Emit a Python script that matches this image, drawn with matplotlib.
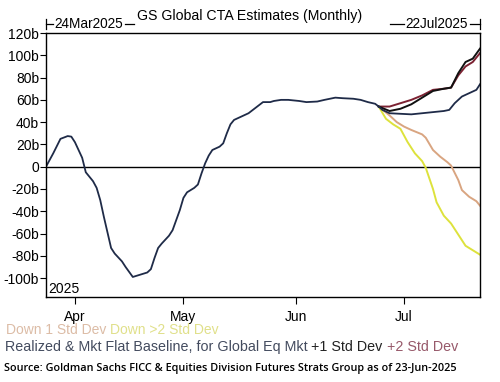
import pandas as pd
import matplotlib.pyplot as plt
import matplotlib.dates as mdates

plt.rcParams['font.family'] = ['Liberation Sans', 'DejaVu Sans']

START = pd.Timestamp('2025-03-24')

# realized CTA positioning (days since 24Mar2025, $bn)
real_days = [0, 2, 4, 6, 7, 8, 10, 11, 13, 14, 15, 16, 18, 19, 21, 22, 24, 26, 28, 29,
             30, 31, 32, 34, 35, 36, 37, 38, 39, 41, 42, 43, 44, 45, 46, 48, 49, 50, 51,
             52, 54, 56, 58, 60, 62, 63, 65, 67, 70, 72, 75, 77, 80, 82, 85, 87, 89, 91, 92]
real_vals = [0, 12, 25, 27.5, 27, 22, 8, -5, -13, -19, -30, -45, -73, -78, -85, -90, -99, -97, -95, -92,
             -82, -73, -69, -62, -57, -48, -39, -28, -23, -19, -16, -6, 3, 10, 15, 18, 21, 30, 38,
             42, 45, 48, 53, 58, 58, 59, 60, 60, 59, 58, 58.5, 60, 62, 61.5, 61, 60, 58, 56.5, 54]

base_days = [92, 93, 95, 98, 101, 104, 107, 110, 111.5, 113, 115, 117, 119, 120]
base_vals = [54, 51, 48, 47.5, 47, 48, 49, 50, 51, 57, 63, 66, 69, 74]

up1_days = [92, 95, 98, 101, 104, 107, 110, 112, 114, 116, 118, 120]
up1_vals = [54, 50, 52, 56, 62, 68, 70, 71, 84, 94, 97, 106]

up2_days = [92, 95, 98, 101, 104, 107, 110, 112, 114, 116, 118, 120]
up2_vals = [54, 54, 57, 60, 64, 69, 70, 71, 82, 90, 94, 102]

dn1_days = [92, 95, 97, 99, 101, 104, 105, 107, 109, 111, 112, 114, 115, 117, 119, 120]
dn1_vals = [54, 46, 40, 36, 33, 29, 26, 15, 9, 4, 1, -12, -21, -27, -31, -35]

dn2_days = [92, 94, 96, 98, 100, 102, 104, 105, 107, 108, 110, 112, 114, 116, 118, 120]
dn2_vals = [54, 43, 38, 34, 22, 12, 5, -1, -20, -32, -44, -51, -61, -71, -75, -79]

yticks = [120, 100, 80, 60, 40, 20, 0, -20, -40, -60, -80, -100]


def to_dates(days):
    return START + pd.to_timedelta(days, unit='D')


fig = plt.figure(figsize=(5, 3.82), dpi=100)
ax = fig.add_axes([0.092, 0.2225, 0.868, 0.691])

C_TAN = '#d9a581'
C_YEL = '#dde23c'
C_NAVY = '#1f2b48'
C_RED = '#7c2232'

ax.axhline(0, color='black', lw=1.0)
ax.plot(to_dates(dn1_days), dn1_vals, color=C_TAN, lw=1.4)
ax.plot(to_dates(dn2_days), dn2_vals, color=C_YEL, lw=1.4)
ax.plot(to_dates(up2_days), up2_vals, color=C_RED, lw=1.4)
ax.plot(to_dates(up1_days), up1_vals, color='#111111', lw=1.4)
ax.plot(to_dates(base_days), base_vals, color=C_NAVY, lw=1.3)
ax.plot(to_dates(real_days), real_vals, color=C_NAVY, lw=1.3)

ax.set_xlim(START, pd.Timestamp('2025-07-22'))
ax.set_ylim(-117, 120)
ax.set_yticks(yticks)
ax.set_yticklabels([f'{v}b' if v != 0 else '0' for v in yticks], fontsize=10)
ax.xaxis.set_major_locator(mdates.MonthLocator())
ax.xaxis.set_major_formatter(mdates.DateFormatter('%b'))
ax.tick_params(axis='x', labelsize=10, length=5, pad=4)
ax.tick_params(axis='y', length=4, pad=1)
for s in ax.spines.values():
    s.set_linewidth(1.0)

ax.text(0.005, 0.003, '2025', transform=ax.transAxes, fontsize=10, va='bottom', ha='left')

# header
fig.text(250 / 500, 1 - 16 / 382, 'GS Global CTA Estimates (Monthly)', fontsize=10.2,
         ha='center', va='center')
yh = 1 - 24 / 382
fig.text(54 / 500, yh, '24Mar2025', fontsize=9.8, ha='left', va='center')
fig.text(468 / 500, yh, '22Jul2025', fontsize=9.8, ha='right', va='center')
fig.add_artist(plt.Line2D([46 / 500, 53 / 500], [yh, yh], color='black', lw=0.9))
fig.add_artist(plt.Line2D([46 / 500, 46 / 500], [yh - 0.012, yh + 0.012], color='black', lw=0.9))
fig.add_artist(plt.Line2D([125 / 500, 134 / 500], [yh, yh], color='black', lw=0.9))
fig.add_artist(plt.Line2D([390 / 500, 404 / 500], [yh, yh], color='black', lw=0.9))
fig.add_artist(plt.Line2D([470 / 500, 480 / 500], [yh, yh], color='black', lw=0.9))
fig.add_artist(plt.Line2D([480 / 500, 480 / 500], [yh - 0.012, yh + 0.012], color='black', lw=0.9))

# legend text
y1 = 1 - 330 / 382
fig.text(6 / 500, y1, 'Down 1 Std Dev', color='#dcbca6', fontsize=10, va='center')
fig.text(110 / 500, y1, 'Down >2 Std Dev', color='#e0e08a', fontsize=10, va='center')

y2 = 1 - 347 / 382
t = fig.text(5 / 500, y2, 'Realized & Mkt Flat Baseline, for Global Eq Mkt', color='#434b5e',
             fontsize=10.3, va='center')
t = fig.add_artist(plt.Annotation('+1 Std Dev', xy=(1, 0.5), xycoords=t, xytext=(2.5, 0),
                                  textcoords='offset points', color='#222222', fontsize=10.3,
                                  va='center'))
fig.add_artist(plt.Annotation('+2 Std Dev', xy=(1, 0.5), xycoords=t, xytext=(3.5, 0),
                              textcoords='offset points', color='#97596a', fontsize=10.3,
                              va='center'))
fig.text(4 / 500, 1 - 368 / 382,
         'Source: Goldman Sachs FICC & Equities Division Futures Strats Group as of 23-Jun-2025',
         fontsize=7.8, fontweight='semibold', family=['Open Sans', 'DejaVu Sans'], va='center')

fig.savefig('out.png', dpi=100)
